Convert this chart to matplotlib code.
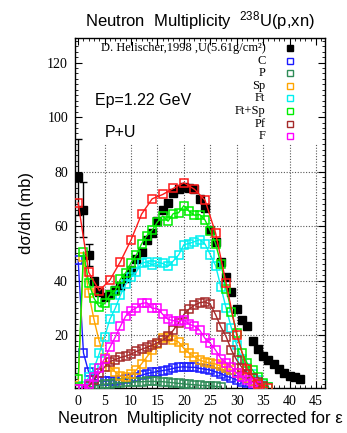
import matplotlib
matplotlib.use('Agg')
import matplotlib.pyplot as plt
from matplotlib.ticker import MultipleLocator
import numpy as np

plt.rcParams['font.family'] = ['Liberation Sans', 'DejaVu Sans']
plt.rcParams['mathtext.fontset'] = 'custom'
plt.rcParams['mathtext.rm'] = 'Liberation Sans'
plt.rcParams['mathtext.it'] = 'Liberation Sans:italic'

# ---------------- data ----------------
data_vals = [78, 66, 49.5, 40, 36, 34, 35, 36.5, 38, 41, 44, 48, 50.5, 55, 57.5, 62,
             66, 68.5, 72, 73.5, 74.5, 74, 73.5, 70, 66.5, 58.5, 54, 47, 41.5, 36,
             29.5, 25.5, 23.5, 18, 15, 12.5, 11, 9.5, 7.5, 6, 5, 4.5, 4]
data_err = [14, 10, 4]

C_vals = [47.5, 13.5, 6.3, 4, 3.1, 3.1, 3.2, 3.3, 3.5, 3.8, 4.1, 4.7, 5.3, 5.9, 6.3, 6.6,
          7.0, 7.3, 7.8, 8.2, 8.4, 8.2, 8.2, 7.8, 7.5, 7.2, 6.5, 5.9, 4.9, 4.4, 3.5,
          2.9, 2.3, 1.7, 1.1]
P_vals = [0.2, 0.4, 0.8, 1.3, 1.7, 2.0, 2.2, 2.4, 2.6, 2.7, 2.8, 2.9, 2.9, 3.0, 3.0, 3.0,
          2.9, 2.7, 2.5, 2.3, 2.1, 1.9, 1.8, 1.6, 1.5, 1.4, 1.2, 1.0]
Sp_vals = [1.5, 48.5, 35.3, 25.6, 17.6, 11.7, 8.4, 6.5, 4.9, 4.5, 5.6, 7.2, 9.5, 12, 14.5,
           16.7, 19, 19.2, 18.2, 17.5, 15.1, 13.3, 12, 10.8, 10.2, 9.6, 9.4, 8.6, 7.8,
           7.2, 6.2, 5.2, 4.3, 3.2, 2.2, 1.2]
Ft_vals = [0.2, 1.5, 4.5, 7.8, 13.3, 19.4, 25.8, 29.8, 34.7, 38.7, 41.2, 43.2, 46.4, 46.9,
           45.7, 46.7, 46.3, 45.2, 47.2, 49.4, 53.2, 53.6, 54.3, 55.0, 53.4, 49.5, 45.5,
           37.7, 29.8, 22.5, 16.3, 11.2, 8.1, 5.9, 3.7, 2.0, 0.8]
FtSp_vals = [4, 50.5, 39.2, 33.5, 30.4, 31.6, 34.7, 36.3, 40.6, 42.9, 46.5, 49.4, 53.5,
             56.5, 58.5, 61.5, 63.7, 61.8, 64.6, 64.9, 67.5, 65.4, 64, 64.2, 62.2, 58.3,
             53.5, 46.2, 37, 28.6, 20.8, 13.5, 9.6, 7.1, 4.7, 2.3, 0.8]
Pf_vals = [0.2, 0.4, 1.5, 3.5, 6, 8.3, 10.3, 11, 11.8, 12.3, 13, 14, 14.8, 15.5, 16.3, 17.2,
           18.2, 19.5, 21.8, 24.5, 27.6, 29.6, 31, 31.9, 32.2, 31.3, 27.5, 23, 19.4, 14.5,
           10.8, 8.1, 5.9, 4.1, 2.7, 1.5]
F_vals = [0.3, 0.4, 2, 4.7, 8, 11.4, 15.5, 19.2, 23.3, 27, 28.9, 30, 31.6, 31.9, 29.8, 29.8,
          27.6, 25.8, 25.3, 25, 25.6, 24, 23.3, 21.8, 18.8, 17, 14.5, 11.4, 9.8, 8.3, 6,
          4.7, 3.5, 2.5, 1.5]
sum_vals = [68.5, 43, 36.3, 40.2, 47, 54.9, 64.4, 70, 71.6, 73.8, 75.9, 73.5, 69.5, 57.4,
            39, 20, 7.5, 2, 0.5]
sum_step = 2

labels = ['C', 'P', 'Sp', 'Ft', 'Ft+Sp', 'Pf', 'F']
colors = ['#1a1aff', '#2e8b57', '#ffa500', '#00f0f0', '#00ee00', '#a52a2a', '#ff00ff']
series = [C_vals, P_vals, Sp_vals, Ft_vals, FtSp_vals, Pf_vals, F_vals]
sum_color = '#ff1a1a'

# ---------------- figure ----------------
fig = plt.figure(figsize=(3.47, 4.33), dpi=100)
ax = fig.add_axes([75/347, 1-388/433, 250/347, 350/433])

xmin, xmax = -0.6, 46.7
ymin, ymax = 0.6, 129
ax.set_xlim(xmin, xmax)
ax.set_ylim(ymin, ymax)

# partial grid like the original
grid_x = np.arange(5, 46, 5)
grid_y = [20, 40, 60, 80]
ax.vlines(grid_x, 0, 90, colors='0.35', linestyles=(0, (1, 1.5)), linewidth=0.8, zorder=1)
ax.hlines(grid_y, xmin, xmax, colors='0.35', linestyles=(0, (1, 1.5)), linewidth=0.8, zorder=1)

# experimental data
nd = np.arange(len(data_vals))
ax.plot(nd, data_vals, 's', color='black', markersize=5.5, zorder=3)
ax.errorbar(nd[:len(data_err)], data_vals[:len(data_err)], yerr=data_err, fmt='none',
            ecolor='black', elinewidth=1, capsize=3, capthick=1, zorder=3)

for vals, col in zip(series, colors):
    n = np.arange(len(vals))
    ax.plot(n, vals, '-s', color=col, markersize=5.5, markerfacecolor='none',
            markeredgewidth=1.1, linewidth=1.0, zorder=4)

ns = np.arange(len(sum_vals)) * sum_step
ax.plot(ns, sum_vals, '-s', color=sum_color, markersize=5.5, markerfacecolor='none',
        markeredgewidth=1.1, linewidth=1.0, zorder=5)

# ticks
ax.xaxis.set_major_locator(MultipleLocator(5))
ax.xaxis.set_minor_locator(MultipleLocator(1))
ax.yaxis.set_major_locator(MultipleLocator(20))
ax.yaxis.set_minor_locator(MultipleLocator(2))
ax.tick_params(which='both', direction='in', top=True, right=True)
ax.tick_params(which='major', length=5, width=0.8, pad=5)
ax.tick_params(which='minor', length=2.5, width=0.6)
for lab in ax.get_xticklabels() + ax.get_yticklabels():
    lab.set_fontfamily('Liberation Serif')
    lab.set_fontsize(10)
ax.tick_params(labelsize=10)
for sp in ax.spines.values():
    sp.set_linewidth(1.0)

ax.set_title('Neutron  Multiplicity  $^{238}$U(p,xn)', fontsize=12, pad=8)
ax.set_xlabel('Neutron  Multiplicity not corrected for ε', fontsize=12)
ax.set_ylabel('dσ/dn (mb)', fontsize=12)
ax.yaxis.set_label_coords(-0.165, 0.5)
ax.xaxis.set_label_coords(0.5, -0.065)

ax.text(3.2, 106, 'Ep=1.22 GeV', fontsize=11.5, va='center', ha='left')
ax.text(5.1, 94.5, 'P+U', fontsize=11.5, va='center', ha='left')

# legend (manual, right-aligned text with marker on right)
leg_labels = ['D. Helischer,1998 ,U(5.61g/cm²)'] + labels
leg_colors = ['black'] + colors
row_y = [(388 - py) / 350 for py in [48, 60.6, 73.2, 85.8, 98.4, 111, 123.6, 136.2]]
for i, (lab, col, yy) in enumerate(zip(leg_labels, leg_colors, row_y)):
    ax.text(0.762, yy, lab, transform=ax.transAxes, ha='right', va='center',
            fontsize=9, fontfamily='Liberation Serif')
    if i == 0:
        ax.plot([0.86], [yy], 's', color='black', markersize=4, transform=ax.transAxes)
    else:
        ax.plot([0.86], [yy], 's', color=col, markersize=4, markerfacecolor='none',
                markeredgewidth=1.0, transform=ax.transAxes)

fig.savefig('out.png', dpi=100)
